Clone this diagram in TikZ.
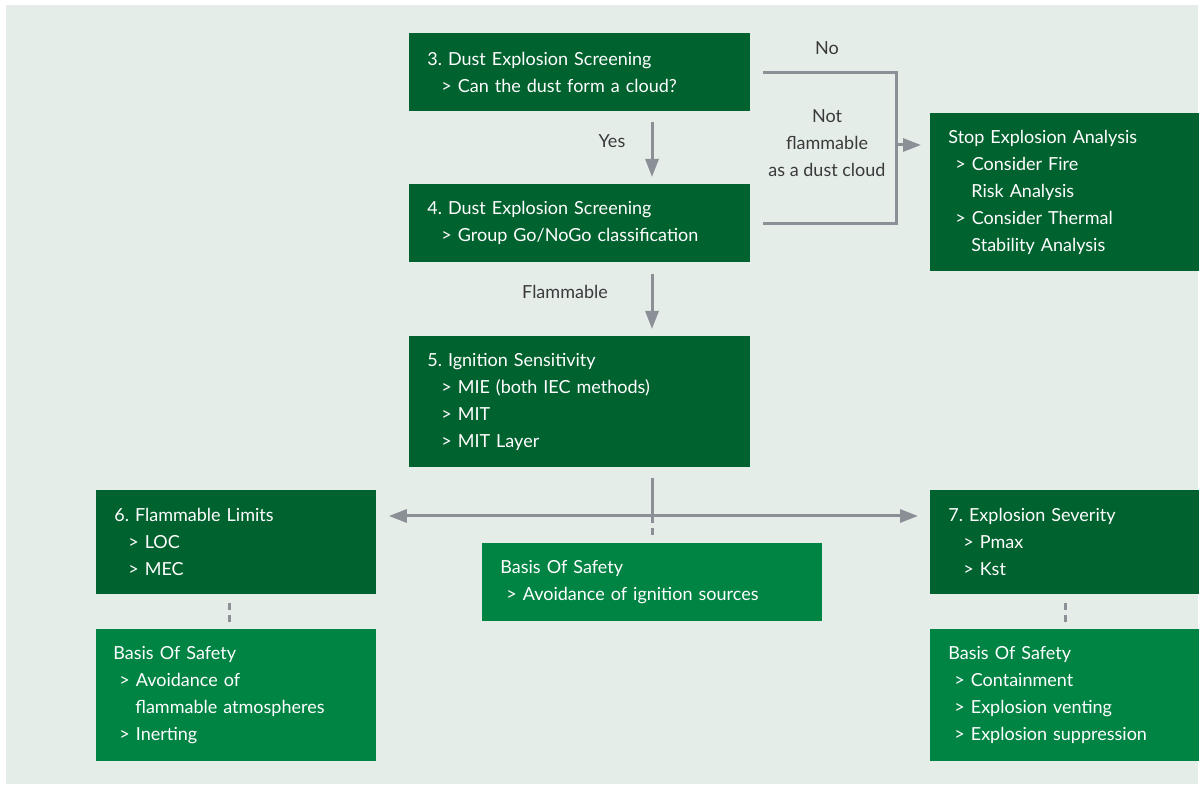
\documentclass[tikz,border=0pt]{standalone}
\usepackage{fontspec}
\setmainfont{Lato}
\usepackage{tikz}
\usetikzlibrary{arrows.meta,calc}
\definecolor{darkgreen}{HTML}{00622F}
\definecolor{midgreen}{HTML}{008444}
\definecolor{backdrop}{HTML}{E5EDE9}
\definecolor{linegray}{HTML}{8A9096}
\definecolor{notegray}{HTML}{3A3A3A}
\frenchspacing

\begin{document}
\begin{tikzpicture}[x=0.5pt,y=-0.5pt,
stage/.style={anchor=north west, fill=darkgreen, text=white, align=left, inner xsep=9pt, inner ysep=0pt, font=\fontsize{9}{13.5}\selectfont},
basis/.style={stage, fill=midgreen},
note/.style={text=notegray, align=center, font=\fontsize{9}{13.5}\selectfont},
>={Triangle[length=9pt,width=6.5pt]},
tie/.style={draw=linegray, line width=1.5pt},
link/.style={tie, ->},
weak/.style={tie, dash pattern=on 3.5pt off 2.5pt}]
\useasboundingbox (0,0) rectangle (1199,785);
\fill[backdrop] (6,5) rectangle (1198,784);
% screening steps
\node[stage, text width=152.5pt, minimum height=39pt] (screen3) at (409,33) {3. Dust Explosion Screening\\\hspace*{7pt}> Can the dust form a cloud?};
\node[stage, text width=152.5pt, minimum height=39pt] (screen4) at (409,184) {4. Dust Explosion Screening\\\hspace*{7pt}> Group Go/NoGo classification};
\node[stage, text width=152.5pt, minimum height=65.5pt] (ign) at (409,336) {5. Ignition Sensitivity\\\hspace*{7pt}> MIE (both IEC methods)\\\hspace*{7pt}> MIT\\\hspace*{7pt}> MIT Layer};
\node[stage, text width=116.5pt, minimum height=79pt] (stop) at (930,113) {Stop Explosion Analysis\\\hspace*{3.5pt}> Consider Fire\\\hspace*{11.5pt}Risk Analysis\\\hspace*{3.5pt}> Consider Thermal\\\hspace*{11.5pt}Stability Analysis};
% test results
\node[stage, text width=122pt, minimum height=52pt] (flam) at (96,490) {6. Flammable Limits\\\hspace*{7pt}> LOC\\\hspace*{7pt}> MEC};
\node[stage, text width=116.5pt, minimum height=52pt] (sev) at (930,490) {7. Explosion Severity\\\hspace*{7.5pt}> Pmax\\\hspace*{7.5pt}> Kst};
% basis of safety
\node[basis, text width=152pt, minimum height=39pt] (ignsafe) at (482,543) {Basis Of Safety\\\hspace*{3pt}> Avoidance of ignition sources};
\node[basis, inner xsep=8.5pt, text width=123pt, minimum height=66pt] (flamsafe) at (96,629) {Basis Of Safety\\\hspace*{3pt}> Avoidance of\\\hspace*{11pt}flammable atmospheres\\\hspace*{3pt}> Inerting};
\node[basis, text width=116.5pt, minimum height=66pt] (sevsafe) at (930,629) {Basis Of Safety\\\hspace*{3pt}> Containment\\\hspace*{3pt}> Explosion venting\\\hspace*{3pt}> Explosion suppression};
% labels
\node[note] (yes) at (612,141) {Yes};
\node[note] (no) at (827,48) {No};
\node[note] (flamlab) at (565,292) {Flammable};
\node[note] (notflam) at (827,143) {Not\\flammable\\as a dust cloud};
\coordinate (spine) at (652,0);
\coordinate (bend) at (896,145);
\coordinate (hub) at (652,516);
\coordinate (leftdash) at (229,0);
\coordinate (rightdash) at (1065,0);
% connectors
\draw[link] ($(screen3.south -| spine)+(0,10)$) -- ($(screen4.north -| spine)+(0,-7)$);
\draw[link] ($(screen4.south -| spine)+(0,11)$) -- ($(ign.north -| spine)+(0,-7)$);
\draw[tie] ($(screen3.east)+(12,0)$) -| (bend) |- ($(screen4.east)+(12,0)$);
\draw[link] (bend) -- ($(bend -| stop.west)+(-9,0)$);
\draw[tie] ($(ign.south -| spine)+(0,10)$) -- (hub);
\draw[weak] (hub) -- ($(ignsafe.north -| hub)+(0,-8)$);
\draw[tie, <->] ($(flam.east |- hub)+(12,0)$) -- ($(sev.west |- hub)+(-12,0)$);
\draw[weak] ($(flam.south -| leftdash)+(0,8)$) -- ($(flamsafe.north -| leftdash)+(0,-7)$);
\draw[weak] ($(sev.south -| rightdash)+(0,8)$) -- ($(sevsafe.north -| rightdash)+(0,-7)$);
\end{tikzpicture}
\end{document}
